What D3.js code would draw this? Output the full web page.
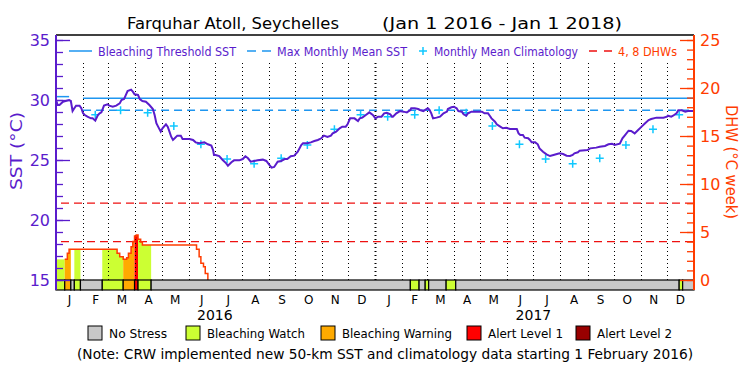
<!DOCTYPE html>
<html>
<head>
<meta charset="utf-8">
<script src="https://cdn.jsdelivr.net/npm/d3@7"></script>
<style>
  body { margin: 0; background: #fff; }
  text { font-family: "DejaVu Sans", "Liberation Sans", sans-serif; }
</style>
</head>
<body>
<div id="chart"></div>
<script>
// Constants
const W = 750, H = 375;
const PLOT = { left: 56, right: 694, top: 35, bottom: 290, stressTop: 280 };
const START = new Date(Date.UTC(2016, 0, 1));
const END = new Date(Date.UTC(2018, 0, 1));

const SST_COLOR = "#5a1ccc";
const DHW_COLOR = "#ff3c00";
const THRESH_COLOR = "#1e96f0";
const CLIM_COLOR = "#10c8ff";
const DASH_RED = "#ee1010";

// Daily SST trace: [days since 1 Jan 2016, °C]
const sstSeries = [
  [0,30.0],[2,29.58],[4,29.58],[8,29.86],[15,30.0],[17,29.92],[19,29.08],[21,29.31],[23,29.53],[27,29.53],
  [29,29.31],[31,28.89],[33,28.75],[36,28.61],[40,28.47],[42,28.47],[45,28.28],[48,28.75],[50,28.89],[52,28.97],
  [55,29.53],[59,29.64],[61,29.53],[65,29.44],[69,29.53],[73,29.72],[75,30.0],[78,30.08],[82,30.75],[86,30.86],
  [88,30.69],[90,30.47],[94,30.42],[96,30.08],[99,29.92],[103,29.86],[107,29.58],[111,29.25],[113,28.75],[115,28.06],
  [117,27.78],[120,27.36],[122,27.64],[126,27.97],[128,27.78],[130,27.36],[132,26.94],[134,26.67],[136,26.81],[139,27.03],
  [143,27.03],[145,26.75],[153,26.75],[157,26.67],[160,26.47],[164,26.39],[170,26.47],[174,26.31],[178,26.2],[180,25.83],
  [181,25.42],[183,25.42],[187,25.33],[191,25.0],[195,24.72],[197,24.53],[201,24.81],[204,24.97],[210,24.97],[214,25.08],
  [217,25.31],[220,25.14],[223,24.86],[227,24.92],[231,24.97],[237,25.03],[241,24.92],[244,24.64],[247,24.36],[250,24.42],
  [254,24.86],[258,24.92],[262,25.08],[265,25.08],[269,25.31],[273,25.36],[277,25.69],[281,26.25],[283,26.39],[288,26.39],
  [292,26.47],[296,26.58],[300,26.67],[304,26.81],[307,27.03],[311,26.92],[315,27.03],[317,27.22],[321,27.36],[325,27.64],
  [328,27.78],[332,27.78],[334,27.97],[337,28.47],[342,28.47],[346,28.25],[348,28.47],[351,28.53],[355,28.75],[359,28.97],
  [363,28.75],[366,28.47],[369,28.61],[373,28.61],[376,28.89],[379,28.94],[383,28.81],[385,28.61],[386,28.61],[390,28.89],
  [394,29.08],[398,29.03],[402,28.97],[406,29.17],[407,29.31],[411,29.31],[415,29.25],[417,29.17],[421,29.08],[423,29.17],
  [426,29.31],[428,29.17],[430,28.89],[432,28.47],[436,28.53],[440,28.61],[442,28.75],[444,28.89],[448,29.03],[449,29.25],
  [453,29.39],[456,29.44],[459,29.31],[461,29.08],[465,29.03],[467,28.81],[470,28.69],[472,28.89],[476,29.03],[488,29.03],
  [491,28.89],[495,28.89],[497,28.69],[499,28.47],[503,28.19],[505,27.97],[509,27.78],[512,27.64],[516,27.69],[520,27.58],
  [528,27.58],[530,27.22],[532,27.08],[535,27.08],[537,26.86],[541,26.81],[543,26.67],[545,26.47],[549,26.47],[552,26.31],
  [554,25.97],[558,25.69],[562,25.47],[566,25.33],[570,25.42],[574,25.5],[577,25.56],[581,25.5],[585,25.36],[589,25.33],
  [592,25.42],[594,25.56],[598,25.64],[600,25.78],[609,25.83],[612,25.97],[619,26.03],[623,26.11],[629,26.17],[633,26.31],
  [637,26.36],[640,26.25],[646,26.36],[649,26.81],[652,27.08],[656,27.44],[659,27.42],[663,27.22],[667,27.5],[671,27.78],
  [675,28.06],[679,28.33],[682,28.42],[688,28.53],[696,28.53],[700,28.61],[701,28.69],[705,28.61],[707,28.69],[711,28.89],
  [713,29.14],[717,29.14],[721,29.03],[724,29.08],[731,29.08]
];

// Monthly mean climatology (plotted mid-month, new climatology from Feb 2016)
const climDates = [
  "2016-02-15","2016-03-15","2016-04-15","2016-05-15","2016-06-15","2016-07-15","2016-08-15","2016-09-15",
  "2016-10-15","2016-11-15","2016-12-15","2017-01-15","2017-02-15","2017-03-15","2017-04-15","2017-05-15",
  "2017-06-15","2017-07-15","2017-08-15","2017-09-15","2017-10-15","2017-11-15","2017-12-15"
];
const climValues = [
  28.78, 29.15, 28.94, 27.83, 26.31, 25.08, 24.69, 25.14, 26.25, 27.56, 28.78, 28.61,
  28.78, 29.15, 28.94, 27.83, 26.31, 25.08, 24.69, 25.14, 26.25, 27.56, 28.78
];

const MMM = 29.15;              // max monthly mean
const THRESHOLD = 30.15;        // MMM + 1
const OLD_THRESHOLD = 30.28;    // pre-Feb 2016 threshold (short segment)
const OLD_THRESHOLD_DAYS = [0, 15];
const NEW_CLIM_DAY = 31;        // 1 Feb 2016

// Degree heating weeks: [day, DHW]
const dhwSeries = [
  [0,2.15],[10,2.15],[13,2.78],[15,3.2],[70,2.78],[73,2.43],[77,2.15],[81,2.33],[83,2.78],[86,3.47],
  [88,4.0],[90,4.58],[92,4.7],[94,4.24],[97,3.96],[99,3.65],[161,3.2],[164,2.43],[166,1.74],[169,1.39],
  [171,0.69],[174,0]
];
const DHW_LINE_FROM = 10;
const dhwLevels = [4, 8];

// Stress status segments: [startDay, endDay, level]
const statusSegments = [
  [0,10,1],[10,17,2],[17,21,0],[21,28,1],[28,53,0],[53,77,1],[77,90,2],[90,94,3],[94,109,1],
  [109,406,0],[406,416,1],[416,423,0],[423,427,1],[427,447,0],[447,458,1],[458,714,0],[714,718,1],[718,731,0]
];
const statusNames = ["No Stress", "Bleaching Watch", "Bleaching Warning", "Alert Level 1", "Alert Level 2"];
const statusColors = ["#c8c8c8", "#ccff33", "#ffaa00", "#ff0000", "#990000"];

const sstMajor = [15, 20, 25, 30, 35];
const dhwMajor = [0, 5, 10, 15, 20, 25];
const yearLabels = ["2016", "2017"];

// Setup
const svg = d3.select("#chart").append("svg")
  .attr("width", W).attr("height", H);

const x = d3.scaleUtc().domain([START, END]).range([PLOT.left, PLOT.right]);
const day = n => d3.utcDay.offset(START, n);
const ySst = d3.scaleLinear().domain([15, 35]).range([280, 40]);
const yDhw = d3.scaleLinear().domain([0, 25]).range([280, 40]);

function fit(sel, len) {
  return sel.attr("textLength", len).attr("lengthAdjust", "spacingAndGlyphs");
}

// Stress fill under DHW curve
function dhwAt(d) {
  let v = 0;
  dhwSeries.forEach(p => { if (p[0] <= d) v = p[1]; });
  return v;
}
const area = d3.area()
  .curve(d3.curveStepAfter)
  .x(p => x(day(p[0])))
  .y0(yDhw(0))
  .y1(p => yDhw(p[1]));

svg.append("g").selectAll("path")
  .data(statusSegments.filter(s => s[2] > 0))
  .join("path")
  .attr("fill", s => statusColors[s[2]])
  .attr("d", s => {
    const pts = [[s[0], dhwAt(s[0])]];
    dhwSeries.forEach(p => { if (p[0] > s[0] && p[0] < s[1]) pts.push(p); });
    pts.push([s[1], dhwAt(s[1])]);
    return area(pts);
  });

// Monthly dotted grid lines
const months = d3.utcMonths(d3.utcMonth.offset(START, 1), END);
svg.append("g").selectAll("line")
  .data(months)
  .join("line")
  .attr("x1", d => Math.round(x(d)) + 0.5)
  .attr("x2", d => Math.round(x(d)) + 0.5)
  .attr("y1", 63).attr("y2", PLOT.stressTop)
  .attr("stroke", "#000")
  .attr("stroke-width", d => d.getUTCMonth() === 0 ? 2 : 1)
  .attr("stroke-dasharray", "1,3");

// DHW 4 / 8 reference lines
svg.append("g").selectAll("line")
  .data(dhwLevels)
  .join("line")
  .attr("x1", 61).attr("x2", PLOT.right)
  .attr("y1", d => yDhw(d)).attr("y2", d => yDhw(d))
  .attr("stroke", DASH_RED).attr("stroke-width", 1.3)
  .attr("stroke-dasharray", "8,5");

// Threshold and MMM lines
svg.append("line")
  .attr("x1", x(day(OLD_THRESHOLD_DAYS[0]))).attr("x2", x(day(OLD_THRESHOLD_DAYS[1])))
  .attr("y1", ySst(OLD_THRESHOLD)).attr("y2", ySst(OLD_THRESHOLD))
  .attr("stroke", THRESH_COLOR).attr("stroke-width", 1.5);
svg.append("line")
  .attr("x1", x(day(NEW_CLIM_DAY))).attr("x2", PLOT.right)
  .attr("y1", ySst(THRESHOLD)).attr("y2", ySst(THRESHOLD))
  .attr("stroke", THRESH_COLOR).attr("stroke-width", 1.5);
svg.append("line")
  .attr("x1", x(day(NEW_CLIM_DAY))).attr("x2", PLOT.right)
  .attr("y1", ySst(MMM)).attr("y2", ySst(MMM))
  .attr("stroke", THRESH_COLOR).attr("stroke-width", 1.5)
  .attr("stroke-dasharray", "8,5");

// Climatology pluses
svg.append("g").selectAll("path")
  .data(climDates.map((d, i) => [new Date(d + "T00:00:00Z"), climValues[i]]))
  .join("path")
  .attr("d", d => {
    const cx = x(d[0]), cy = ySst(d[1]);
    return `M${cx - 4},${cy}H${cx + 4}M${cx},${cy - 4}V${cy + 4}`;
  })
  .attr("stroke", CLIM_COLOR).attr("stroke-width", 1.5);

// SST line
svg.append("path")
  .datum(sstSeries)
  .attr("fill", "none")
  .attr("stroke", SST_COLOR)
  .attr("stroke-width", 2)
  .attr("d", d3.line().x(p => x(day(p[0]))).y(p => ySst(p[1])));

// DHW line
svg.append("path")
  .datum(dhwSeries.filter(p => p[0] >= DHW_LINE_FROM))
  .attr("fill", "none")
  .attr("stroke", DHW_COLOR)
  .attr("stroke-width", 1.5)
  .attr("d", d3.line().curve(d3.curveStepAfter).x(p => x(day(p[0]))).y(p => yDhw(p[1])));

// Status bar
svg.append("g").selectAll("rect")
  .data(statusSegments)
  .join("rect")
  .attr("x", s => x(day(s[0])))
  .attr("width", s => x(day(s[1])) - x(day(s[0])))
  .attr("y", PLOT.stressTop)
  .attr("height", PLOT.bottom - PLOT.stressTop)
  .attr("fill", s => statusColors[s[2]])
  .attr("stroke", "#000").attr("stroke-width", 1.2);

// Frame
svg.append("line")
  .attr("x1", PLOT.left).attr("x2", PLOT.right)
  .attr("y1", PLOT.top).attr("y2", PLOT.top)
  .attr("stroke", "#000").attr("stroke-width", 1.5);

// Left SST axis
const left = svg.append("g").attr("transform", `translate(${PLOT.left},0)`);
left.append("g")
  .call(d3.axisLeft(ySst).tickValues(d3.range(15, 36)).tickSizeInner(-7).tickSizeOuter(0).tickFormat(""))
  .call(g => g.select(".domain").remove())
  .call(g => g.selectAll("line").attr("stroke", SST_COLOR).attr("stroke-width", 1.3));
left.append("g")
  .call(d3.axisLeft(ySst).tickValues(sstMajor).tickSizeInner(-14).tickSizeOuter(0).tickPadding(6))
  .call(g => g.select(".domain").remove())
  .call(g => g.selectAll("line").attr("stroke", SST_COLOR).attr("stroke-width", 1.3))
  .call(g => g.selectAll("text").attr("fill", SST_COLOR).attr("font-size", 16)
    .attr("font-family", "DejaVu Sans").attr("dy", "0.36em"));
left.append("line")
  .attr("y1", PLOT.top).attr("y2", PLOT.bottom)
  .attr("stroke", SST_COLOR).attr("stroke-width", 2);

// Right DHW axis
const right = svg.append("g").attr("transform", `translate(${PLOT.right},0)`);
right.append("g")
  .call(d3.axisRight(yDhw).tickValues(d3.range(0, 26)).tickSizeInner(-7).tickSizeOuter(0).tickFormat(""))
  .call(g => g.select(".domain").remove())
  .call(g => g.selectAll("line").attr("stroke", DHW_COLOR).attr("stroke-width", 1.3));
right.append("g")
  .call(d3.axisRight(yDhw).tickValues(dhwMajor).tickSizeInner(-14).tickSizeOuter(0).tickPadding(6))
  .call(g => g.select(".domain").remove())
  .call(g => g.selectAll("line").attr("stroke", DHW_COLOR).attr("stroke-width", 1.3))
  .call(g => g.selectAll("text").attr("fill", DHW_COLOR).attr("font-size", 16)
    .attr("font-family", "DejaVu Sans").attr("dy", "0.36em"));
right.append("line")
  .attr("y1", PLOT.top).attr("y2", PLOT.bottom)
  .attr("stroke", DHW_COLOR).attr("stroke-width", 2);

// Axis titles
fit(svg.append("text")
  .attr("transform", "translate(22,151) rotate(-90)")
  .attr("text-anchor", "middle")
  .attr("fill", SST_COLOR).attr("font-size", 16)
  .text("SST (°C)"), 78);
fit(svg.append("text")
  .attr("transform", "translate(726,162) rotate(90)")
  .attr("text-anchor", "middle")
  .attr("fill", DHW_COLOR).attr("font-size", 16)
  .text("DHW (°C week)"), 114);

// Month labels
svg.append("g").selectAll("text")
  .data(d3.utcMonths(START, END))
  .join("text")
  .attr("x", d => (x(d) + x(d3.utcMonth.offset(d, 1))) / 2)
  .attr("y", 304)
  .attr("text-anchor", "middle")
  .attr("font-size", 12)
  .text(d => d3.utcFormat("%b")(d)[0]);

// Year labels
svg.append("g").selectAll("text")
  .data(yearLabels)
  .join("text")
  .attr("x", d => x(new Date(Date.UTC(+d, 6, 1))))
  .attr("y", 320)
  .attr("text-anchor", "middle")
  .attr("font-size", 14)
  .text(d => d);

// Title
fit(svg.append("text").attr("x", 127).attr("y", 29).attr("font-size", 16)
  .text("Farquhar Atoll, Seychelles"), 212);
fit(svg.append("text").attr("x", 382).attr("y", 29).attr("font-size", 16)
  .text("(Jan 1 2016 - Jan 1 2018)"), 240);

// Top legend
const topLegend = svg.append("g").attr("font-size", 13);
topLegend.append("line").attr("x1", 69).attr("x2", 92).attr("y1", 51).attr("y2", 51)
  .attr("stroke", THRESH_COLOR).attr("stroke-width", 1.5);
fit(topLegend.append("text").attr("x", 98).attr("y", 56).attr("fill", SST_COLOR)
  .text("Bleaching Threshold SST"), 138);
topLegend.append("line").attr("x1", 247).attr("x2", 271).attr("y1", 51).attr("y2", 51)
  .attr("stroke", THRESH_COLOR).attr("stroke-width", 1.5).attr("stroke-dasharray", "9,6");
fit(topLegend.append("text").attr("x", 277).attr("y", 56).attr("fill", SST_COLOR)
  .text("Max Monthly Mean SST"), 130);
topLegend.append("path").attr("d", "M419,51H427M423,47V55")
  .attr("stroke", CLIM_COLOR).attr("stroke-width", 1.5);
fit(topLegend.append("text").attr("x", 434).attr("y", 56).attr("fill", SST_COLOR)
  .text("Monthly Mean Climatology"), 144);
topLegend.append("line").attr("x1", 589).attr("x2", 612).attr("y1", 51).attr("y2", 51)
  .attr("stroke", DASH_RED).attr("stroke-width", 1.5).attr("stroke-dasharray", "8,7");
fit(topLegend.append("text").attr("x", 618).attr("y", 56).attr("fill", DHW_COLOR)
  .text("4, 8 DHWs"), 59);

// Status legend
const legendX = [88, 186, 321, 467, 576];
const legendW = [58, 98, 110, 75, 75];
const legend = svg.append("g").attr("font-size", 13);
legend.selectAll("rect")
  .data(statusNames)
  .join("rect")
  .attr("x", (d, i) => legendX[i]).attr("y", 326)
  .attr("width", 14).attr("height", 14)
  .attr("fill", (d, i) => statusColors[i])
  .attr("stroke", "#000").attr("stroke-width", 1);
legend.selectAll("text")
  .data(statusNames)
  .join("text")
  .attr("x", (d, i) => legendX[i] + 21).attr("y", 338)
  .attr("textLength", (d, i) => legendW[i]).attr("lengthAdjust", "spacingAndGlyphs")
  .text(d => d);

// Note
fit(svg.append("text").attr("x", 77).attr("y", 359).attr("font-size", 14)
  .text("(Note: CRW implemented new 50-km SST and climatology data starting 1 February 2016)"), 616);
</script>
</body>
</html>
